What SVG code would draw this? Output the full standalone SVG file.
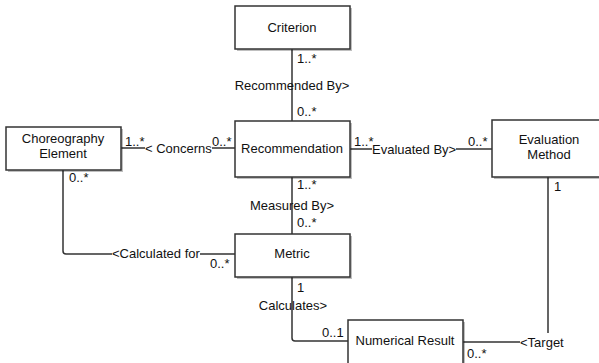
<svg xmlns="http://www.w3.org/2000/svg" width="599" height="363" viewBox="0 0 599 363">
<defs>
<style>
.box{fill:#fff;stroke:#333;stroke-width:1.5}
.sh{fill:#000;opacity:0.25}
.ln{fill:none;stroke:#333;stroke-width:1.5}
.t{font-family:"Liberation Sans",Arial,sans-serif;font-size:13px;fill:#111;text-anchor:middle}
.l{font-family:"Liberation Sans",Arial,sans-serif;font-size:13px;fill:#111}
.c{text-anchor:middle}
</style>
</defs>
<rect width="599" height="363" fill="#fff"/>
<g id="connectors">
<path class="ln" d="M292 49V121"/>
<path class="ln" d="M292 177V234"/>
<path class="ln" d="M121 148H145M212 148H235"/>
<path class="ln" d="M350 149H372M456 149H492"/>
<path class="ln" d="M63 170V251Q63 254 66 254H112M200 254H235"/>
<path class="ln" d="M292 277V338Q292 341 295 341H348"/>
<path class="ln" d="M548 177V333M463 342H520"/>
<text class="l" x="297" y="63">1..*</text>
<text class="l c" x="292" y="90">Recommended By&gt;</text>
<text class="l" x="297" y="116">0..*</text>
<text class="l" x="125" y="146">1..*</text>
<text class="l" x="145" y="153">&lt; Concerns</text>
<text class="l" x="212" y="146">0..*</text>
<text class="l" x="354" y="146">1..*</text>
<text class="l" x="372" y="154">Evaluated By&gt;</text>
<text class="l" x="468" y="146">0..*</text>
<text class="l" x="297" y="189">1..*</text>
<text class="l c" x="292" y="210">Measured By&gt;</text>
<text class="l" x="297" y="227">0..*</text>
<text class="l" x="69" y="182">0..*</text>
<text class="l" x="112" y="258">&lt;Calculated for</text>
<text class="l" x="210" y="268">0..*</text>
<text class="l" x="297" y="292">1</text>
<text class="l c" x="293" y="310">Calculates&gt;</text>
<text class="l" x="322" y="337">0..1</text>
<text class="l" x="467" y="358">0..*</text>
<text class="l" x="520" y="347">&lt;Target</text>
<text class="l" x="554" y="191">1</text>
</g>
<g id="criterion">
<rect class="sh" x="237" y="8" width="115" height="43"/>
<rect class="box" x="235" y="6" width="115" height="43"/>
<text class="t" x="292" y="32">Criterion</text>
</g>
<g id="recommendation">
<rect class="sh" x="237" y="123" width="115" height="56"/>
<rect class="box" x="235" y="121" width="115" height="56"/>
<text class="t" x="292" y="153">Recommendation</text>
</g>
<g id="choreography-element">
<rect class="sh" x="8" y="129" width="115" height="43"/>
<rect class="box" x="6" y="127" width="115" height="43"/>
<text class="t" x="63" y="143">Choreography</text>
<text class="t" x="63" y="158">Element</text>
</g>
<g id="evaluation-method">
<rect class="sh" x="494" y="122" width="115" height="57"/>
<rect class="box" x="492" y="120" width="115" height="57"/>
<text class="t" x="549" y="144">Evaluation</text>
<text class="t" x="549" y="159">Method</text>
</g>
<g id="metric">
<rect class="sh" x="237" y="236" width="115" height="43"/>
<rect class="box" x="235" y="234" width="115" height="43"/>
<text class="t" x="292" y="258">Metric</text>
</g>
<g id="numerical-result">
<rect class="sh" x="350" y="322" width="115" height="45"/>
<rect class="box" x="348" y="320" width="115" height="45"/>
<text class="t" x="405" y="345">Numerical Result</text>
</g>
</svg>
